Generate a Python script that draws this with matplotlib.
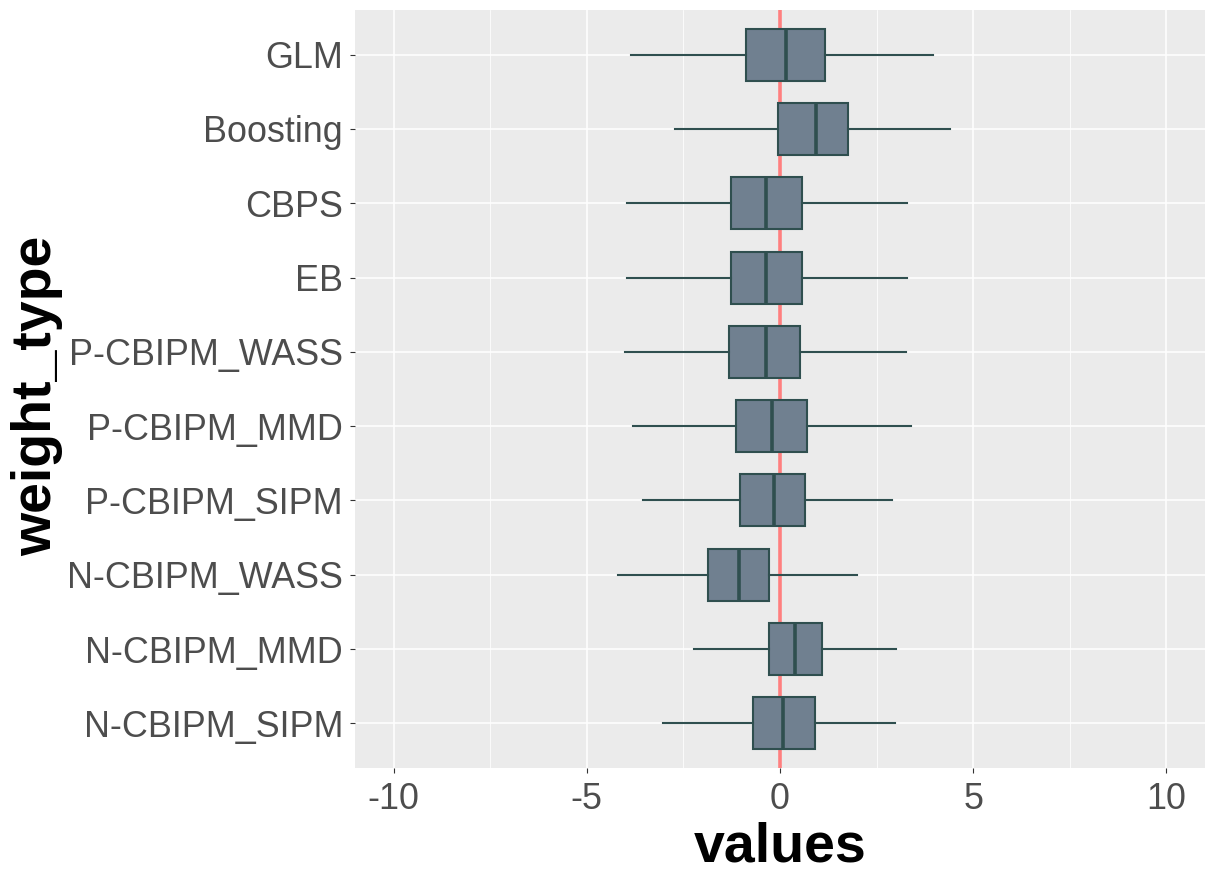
import matplotlib
matplotlib.use("Agg")
import matplotlib.pyplot as plt
from matplotlib.ticker import MultipleLocator

plt.rcParams['font.family'] = ['Liberation Sans', 'DejaVu Sans']

# 箱线图统计量 (从上到下)
weight_types = ["GLM", "Boosting", "CBPS", "EB", "P-CBIPM_WASS",
                "P-CBIPM_MMD", "P-CBIPM_SIPM", "N-CBIPM_WASS",
                "N-CBIPM_MMD", "N-CBIPM_SIPM"]
whisker_lo = [-3.86, -2.71, -3.96, -3.96, -4.01, -3.80, -3.55, -4.19, -2.22, -3.04]
q1 = [-0.89, -0.05, -1.28, -1.28, -1.33, -1.14, -1.04, -1.86, -0.28, -0.71]
median = [0.16, 0.93, -0.37, -0.36, -0.36, -0.21, -0.16, -1.07, 0.38, 0.09]
q3 = [1.17, 1.77, 0.58, 0.58, 0.53, 0.71, 0.65, -0.28, 1.09, 0.90]
whisker_hi = [3.95, 4.40, 3.28, 3.28, 3.26, 3.39, 2.90, 1.99, 3.00, 2.98]

fig = plt.figure(figsize=(12.15, 8.83), dpi=100)
ax = fig.add_axes([355 / 1215, 1 - 768 / 883, 850 / 1215, 758 / 883])
ax.set_facecolor('#EBEBEB')

n = len(weight_types)
positions = list(range(n, 0, -1))  # GLM 在最上面

stats = []
for i in range(n):
    stats.append({
        'whislo': whisker_lo[i], 'q1': q1[i], 'med': median[i],
        'q3': q3[i], 'whishi': whisker_hi[i], 'fliers': [],
    })

# 红色参考线在箱子下面
ax.axvline(0, color='#FF7F7F', lw=2.6, zorder=1)

edge = '#2F4F4F'
ax.bxp(stats, positions=positions, vert=False, widths=0.7,
       showcaps=False, showfliers=False, patch_artist=True,
       boxprops=dict(facecolor='#708090', edgecolor=edge, linewidth=1.5),
       whiskerprops=dict(color=edge, linewidth=1.5),
       medianprops=dict(color=edge, linewidth=2.6),
       zorder=3)

ax.set_xlim(-11, 11)
ax.set_ylim(0.4, n + 0.6)
ax.set_yticks(positions)
ax.set_yticklabels(weight_types)
ax.xaxis.set_major_locator(MultipleLocator(5))
ax.xaxis.set_minor_locator(MultipleLocator(2.5))
ax.set_xticks([-10, -5, 0, 5, 10])
ax.set_xticklabels(['-10', '-5', '0', '5', '10'])

ax.grid(True, which='major', color='white', lw=1.1, zorder=0)
ax.grid(True, which='minor', axis='x', color='white', lw=0.55, zorder=0)
ax.set_axisbelow(True)
for s in ax.spines.values():
    s.set_visible(False)

ax.tick_params(axis='both', which='major', length=3.6, width=0.8,
               color='#333333', labelcolor='#4D4D4D', labelsize=25.8)
ax.tick_params(axis='y', pad=5)
ax.tick_params(axis='x', pad=6.5)
ax.tick_params(which='minor', length=0)

fig.text(780 / 1215, 1 - 862 / 883, 'values', fontsize=40, fontweight='bold',
         ha='center', va='baseline', color='black')
fig.text(37.5 / 1215, 1 - 396 / 883, 'weight_type', fontsize=40,
         fontweight='bold', rotation=90, ha='center', va='center',
         color='black')

fig.savefig('out.png', dpi=100)
